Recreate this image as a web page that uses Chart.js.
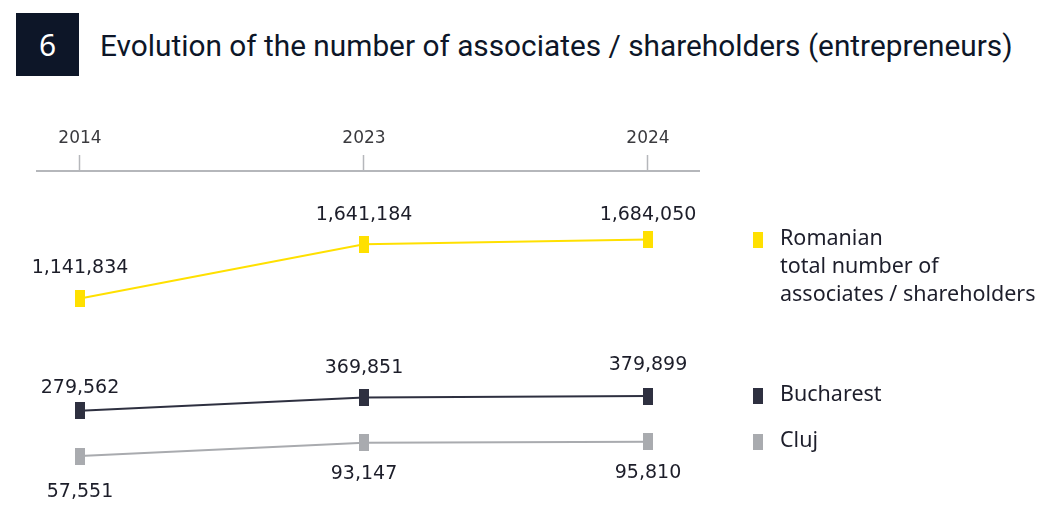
<!DOCTYPE html>
<html>
<head>
<meta charset="utf-8">
<title>Evolution of the number of associates / shareholders</title>
<script src="https://cdn.jsdelivr.net/npm/chart.js"></script>
<style>
  body { margin: 0; background: #fff; }
  #wrap { position: relative; width: 1042px; height: 506px; overflow: hidden; }
  #num { position: absolute; left: 16px; top: 13px; width: 63px; height: 63px; background: #0d1628; }
  #num span { position: absolute; left: 0; width: 63px; top: 17px; text-align: center;
              font: 30px/30px "Noto Sans"; color: #fff; }
  #title { position: absolute; left: 100px; top: 31px; font: 29.8px/30px Roboto;
           color: #0d1628; white-space: nowrap; }
  canvas { position: absolute; left: 0; top: 0; }
</style>
</head>
<body>
<div id="wrap">
  <div id="num"><span>6</span></div>
  <div id="title">Evolution of the number of associates / shareholders (entrepreneurs)</div>
  <canvas id="chart" width="1042" height="506"></canvas>
</div>
<script>
  const years = ['2014', '2023', '2024'];
  const romaniaTotal = [1141834, 1641184, 1684050];
  const bucharest = [279562, 369851, 379899];
  const cluj = [57551, 93147, 95810];
  const legendNames = [
    ['Romanian', 'total number of', 'associates / shareholders'],
    ['Bucharest'],
    ['Cluj']
  ];

  const YELLOW = '#ffe000';
  const DARK = '#2e3040';
  const GREY = '#a9abaf';
  const AXIS = '#b5b7bb';

  function marker(color) {
    const c = document.createElement('canvas');
    c.width = 10;
    c.height = 17;
    const g = c.getContext('2d');
    g.fillStyle = color;
    g.fillRect(0, 0, 10, 17);
    return c;
  }

  const toPoints = arr => arr.map((v, i) => ({x: i, y: v}));

  // offsets: where the value label sits relative to each point (px)
  function series(name, values, color, axis, offsets) {
    return {
      label: name,
      data: toPoints(values),
      yAxisID: axis,
      borderColor: color,
      backgroundColor: color,
      borderWidth: 2,
      pointStyle: marker(color),
      pointRadius: 8,
      pointHoverRadius: 8,
      tension: 0,
      clip: false,
      labelOffsets: offsets
    };
  }

  const pointLabels = {
    id: 'pointLabels',
    afterDatasetsDraw(chart) {
      const ctx = chart.ctx;
      ctx.save();
      ctx.font = '19px "DejaVu Sans"';
      ctx.fillStyle = '#1c1d29';
      ctx.textAlign = 'center';
      ctx.textBaseline = 'middle';
      chart.data.datasets.forEach((ds, i) => {
        chart.getDatasetMeta(i).data.forEach((pt, j) => {
          ctx.fillText(ds.data[j].y.toLocaleString('en-US'), pt.x, pt.y + ds.labelOffsets[j] + 1);
        });
      });
      ctx.restore();
    }
  };

  // legend placed beside the last point of each line
  const sideLegend = {
    id: 'sideLegend',
    afterDraw(chart) {
      const ctx = chart.ctx;
      ctx.save();
      ctx.font = '21.5px "Noto Sans"';
      ctx.textAlign = 'left';
      ctx.textBaseline = 'middle';
      chart.data.datasets.forEach((ds, i) => {
        const pts = chart.getDatasetMeta(i).data;
        const y = pts[pts.length - 1].y;
        ctx.fillStyle = ds.borderColor;
        ctx.fillRect(753, Math.round(y) - 8, 10, 16);
        ctx.fillStyle = '#1d1e2b';
        legendNames[i].forEach((line, k) => {
          ctx.fillText(line, 780, y - 1 + k * 28);
        });
      });
      ctx.restore();
    }
  };

  new Chart(document.getElementById('chart'), {
    type: 'line',
    data: {
      datasets: [
        series('Romanian total number of associates / shareholders', romaniaTotal, YELLOW, 'yR', [-31, -30, -26]),
        series('Bucharest', bucharest, DARK, 'yB', [-24, -31, -32]),
        series('Cluj', cluj, GREY, 'yC', [35, 30, 30])
      ]
    },
    options: {
      responsive: false,
      animation: false,
      events: [],
      layout: { autoPadding: false, padding: { top: 100, left: 37, right: 343, bottom: 6 } },
      plugins: {
        legend: { display: false },
        tooltip: { enabled: false }
      },
      scales: {
        x: {
          type: 'linear',
          position: 'top',
          min: -0.1514,
          max: 2.1796,
          afterFit: s => { s.height = 71; },
          ticks: {
            stepSize: 1,
            includeBounds: false,
            autoSkip: false,
            maxRotation: 0,
            padding: 6,
            color: '#3a3a3e',
            font: { family: 'DejaVu Sans', size: 17 },
            callback: v => years[v] ?? ''
          },
          grid: {
            drawOnChartArea: false,
            drawTicks: true,
            tickLength: 16,
            tickColor: AXIS,
            tickWidth: 1.5
          },
          border: { color: AXIS, width: 2 }
        },
        yR: { display: false, min: -711966, max: 2314834 },
        yB: { display: false, min: -331800, max: 1921850 },
        yC: { display: false, min: -59929, max: 818501 }
      }
    },
    plugins: [pointLabels, sideLegend]
  });
</script>
</body>
</html>
